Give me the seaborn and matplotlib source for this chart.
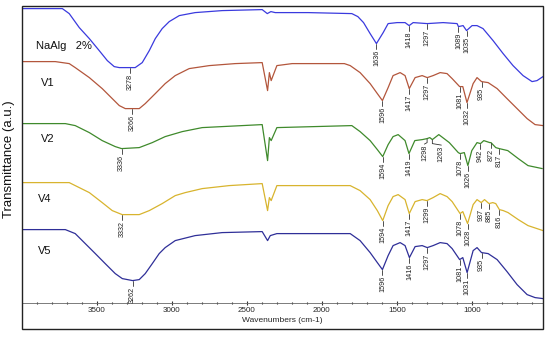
import numpy as np
import pandas as pd
import matplotlib
matplotlib.use("Agg")
import matplotlib.pyplot as plt
from matplotlib.patches import Rectangle
import seaborn as sns

# ---------------- data ----------------
series_names = ["NaAlg 2%", "V1", "V2", "V4", "V5"]

wn_naalg = [4000, 3731, 3685, 3618, 3551, 3485, 3431, 3385, 3351, 3278, 3245, 3198, 3151, 3111, 3065,
            3018, 2951, 2845, 2665, 2398, 2364, 2340, 2311, 2091, 1800, 1760, 1722, 1678, 1636, 1591,
            1558, 1498, 1445, 1418, 1391, 1297, 1191, 1098, 1089, 1058, 1035, 998, 965, 925, 858,
            791, 725, 658, 598, 565, 525]
t_naalg = [294, 294, 289, 275, 264, 252, 242, 236, 235, 235, 235, 240, 252, 264, 274,
           281, 287, 290, 292, 293, 289, 291, 290, 290, 289, 286, 280, 269, 259, 270,
           279, 280, 280, 277, 280, 279, 280, 279, 276, 277, 272, 277, 277, 274, 262,
           249, 237, 227, 221, 222, 226]

wn_v1 = [4000, 3778, 3685, 3645, 3551, 3465, 3398, 3351, 3311, 3266, 3218, 3178, 3111, 3045, 2978,
         2885, 2751, 2578, 2398, 2362, 2350, 2338, 2300, 2198, 1850, 1811, 1745, 1678, 1630, 1596,
         1558, 1525, 1478, 1445, 1417, 1378, 1331, 1297, 1258, 1211, 1165, 1131, 1081, 1060, 1032,
         991, 965, 935, 891, 831, 765, 698, 631, 578, 525]
t_v1 = [241, 241, 239, 235, 225, 214, 204, 197, 194, 194, 194, 199, 209, 219, 227,
        234, 237, 239, 240, 212, 230, 222, 237, 239, 239, 237, 230, 219, 209, 202,
        215, 227, 230, 227, 214, 225, 227, 225, 227, 230, 229, 224, 216, 216, 200,
        219, 225, 221, 220, 214, 204, 194, 184, 178, 177]

wn_v2 = [4000, 3711, 3645, 3551, 3465, 3378, 3336, 3218, 3131, 3045, 2931, 2798, 2665, 2398, 2362,
         2350, 2338, 2300, 1800, 1745, 1678, 1630, 1594, 1558, 1525, 1491, 1445, 1419, 1380, 1330,
         1298, 1280, 1263, 1220, 1150, 1090, 1078, 1050, 1026, 1000, 965, 942, 920, 880, 872,
         840, 817, 760, 690, 625, 530]
t_v2 = [179, 179, 177, 170, 162, 156, 154, 155, 160, 166, 171, 175, 176, 178, 142,
        165, 162, 175, 177, 171, 162, 153, 146, 158, 166, 168, 162, 149, 162, 163,
        164, 165, 163, 168, 160, 150, 149, 150, 137, 152, 160, 159, 162, 160, 160,
        155, 154, 152, 144, 137, 134]

wn_v4 = [4000, 3685, 3645, 3551, 3465, 3398, 3332, 3218, 3151, 3065, 2978, 2911, 2798, 2618, 2398,
         2362, 2350, 2338, 2300, 1811, 1745, 1678, 1630, 1594, 1558, 1525, 1491, 1445, 1417, 1378,
         1331, 1299, 1258, 1211, 1165, 1131, 1078, 1060, 1028, 991, 965, 937, 915, 885, 860,
         840, 816, 790, 758, 690, 625, 525]
t_v4 = [120, 120, 117, 110, 100, 92, 88, 88, 92, 99, 107, 110, 114, 117, 119,
        92, 105, 102, 117, 117, 112, 103, 92, 82, 97, 106, 108, 103, 89, 101,
        103, 102, 105, 109, 106, 101, 89, 91, 79, 98, 103, 100, 103, 99, 100,
        99, 93, 92, 90, 83, 77, 72]

wn_v5 = [4000, 3711, 3645, 3578, 3511, 3445, 3378, 3331, 3262, 3218, 3178, 3131, 3085, 3045, 2978,
         2845, 2665, 2398, 2362, 2344, 2300, 1811, 1745, 1678, 1630, 1596, 1558, 1525, 1478, 1445,
         1416, 1378, 1331, 1297, 1258, 1211, 1165, 1131, 1081, 1060, 1031, 991, 965, 935, 891,
         831, 765, 698, 631, 578, 525]
t_v5 = [73, 73, 69, 59, 49, 39, 29, 24, 22, 23, 29, 39, 49, 55, 62,
        67, 70, 71, 62, 67, 69, 69, 62, 50, 40, 33, 47, 57, 60, 57,
        45, 56, 57, 55, 57, 60, 59, 54, 43, 45, 30, 52, 55, 50, 49,
        43, 31, 18, 8, 5, 4]

peaks_naalg = [3278, 1636, 1418, 1297, 1089, 1035]
peaks_v1 = [3266, 1596, 1417, 1297, 1081, 1032, 935]
peaks_v2 = [3336, 1594, 1419, 1298, 1263, 1078, 1026, 942, 872, 817]
peaks_v4 = [3332, 1594, 1417, 1299, 1078, 1028, 937, 885, 816]
peaks_v5 = [3262, 1596, 1416, 1297, 1081, 1031, 935]

label_texts = ["NaAlg   2%", "V1", "V2", "V4", "V5"]
xticks_major = [3500, 3000, 2500, 2000, 1500, 1000]

colors = ["#3a3ade", "#b3563c", "#3f8a2c", "#d8b42e", "#2f2f98"]

# ---------------- figure ----------------
sns.set_theme(style="white")
plt.rcParams["font.family"] = ["Liberation Sans", "DejaVu Sans"]

W, H = 550, 338
fig = plt.figure(figsize=(W / 100, H / 100), dpi=100)
left, right, top, bottom = 22, 543, 6, 302.6
ax = fig.add_axes([left / W, (H - bottom) / H, (right - left) / W, (bottom - top) / H])

all_wn = [wn_naalg, wn_v1, wn_v2, wn_v4, wn_v5]
all_t = [t_naalg, t_v1, t_v2, t_v4, t_v5]
all_peaks = [peaks_naalg, peaks_v1, peaks_v2, peaks_v4, peaks_v5]

frames = []
for name, wn, t in zip(series_names, all_wn, all_t):
    frames.append(pd.DataFrame({"wn": wn, "T": t, "sample": name}))
df = pd.concat(frames, ignore_index=True)

sns.lineplot(data=df, x="wn", y="T", hue="sample", palette=dict(zip(series_names, colors)),
             estimator=None, sort=True, legend=False, linewidth=0.9, ax=ax)

ax.set_xlim(4000, 525)
ax.set_ylim(0, bottom - top)

# peak annotations (a few labels are nudged sideways in the reference)
text_nudge = {(2, 1298): 18, (2, 1263): -60}
for si, (wn, t, peaks) in enumerate(zip(all_wn, all_t, all_peaks)):
    order = np.argsort(wn)
    xs = np.asarray(wn)[order]
    ys = np.asarray(t)[order]
    for p in peaks:
        yv = np.interp(p, xs, ys)
        dx = text_nudge.get((si, p), 0)
        ax.plot([p, p, p + dx], [yv - 0.5, yv - 4.0, yv - 5.5], color="#333333", lw=0.6)
        ax.text(p + dx, yv - 6.0, str(p), rotation=90, ha="center", va="top",
                fontsize=5.2, color="#222222")

# sample labels
label_pos_x = [3905, 3873, 3873, 3893, 3893]
label_pos_y = [257, 220, 164, 104, 52]
for txt, lx, ly in zip(label_texts, label_pos_x, label_pos_y):
    ax.text(lx, ly, txt, ha="left", va="center", fontsize=8, color="#111111")

# axes styling
for s in ["left", "right", "top"]:
    ax.spines[s].set_visible(False)
ax.spines["bottom"].set_color("#666666")
ax.spines["bottom"].set_linewidth(0.6)
ax.set_yticks([])
ax.set_xticks(xticks_major)
ax.set_xticks(np.arange(600, 4000, 100), minor=True)
ax.tick_params(axis="x", which="major", direction="inout", length=3, width=0.8,
               color="#333333", labelsize=5.8, pad=1.5, bottom=True)
ax.tick_params(axis="x", which="minor", direction="inout", length=2, width=0.8,
               color="#333333", bottom=True)
ax.set_xlabel("Wavenumbers (cm-1)", fontsize=6, labelpad=2)
ax.set_ylabel("")

# outer frame
fig.add_artist(Rectangle((left / W, (H - 329) / H), (right - left) / W, (329 - top) / H,
                         transform=fig.transFigure, fill=False, lw=1.0, edgecolor="#222222"))
fig.text(9 / W, (H - 159) / H, "Transmittance (a.u.)", rotation=90, ha="center", va="center",
         fontsize=9.5, color="#111111")

fig.savefig("out.png", dpi=100)
